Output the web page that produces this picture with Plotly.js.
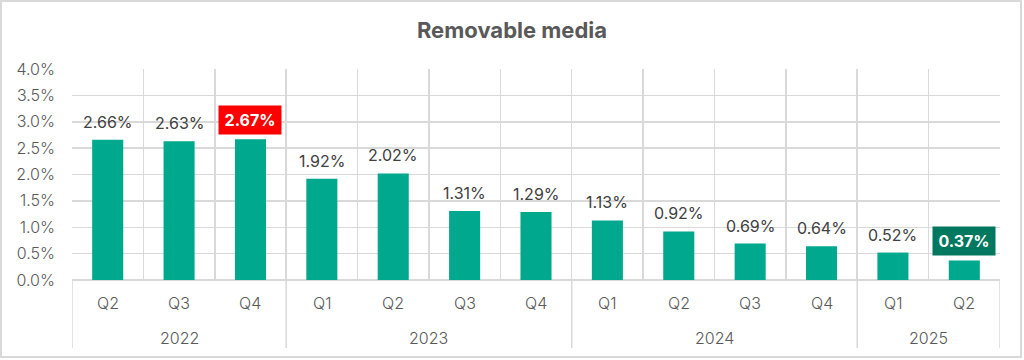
<!DOCTYPE html>
<html>
<head>
<meta charset="utf-8">
<script src="https://cdn.plot.ly/plotly-3.0.1.min.js"></script>
<style>
  html, body { margin: 0; padding: 0; background: #fff; }
  #wrap { position: relative; width: 1024px; height: 360px; }
  #chart { position: absolute; left: 0; top: 0; width: 1024px; height: 360px; }
  #frame { position: absolute; left: 0; top: 0; width: 1018px; height: 354px; border: 2px solid #d9d9d9; pointer-events: none; }
</style>
</head>
<body>
<div id="wrap"><div id="chart"></div><div id="frame"></div></div>
<script>
const years = ["2022","2022","2022","2023","2023","2023","2023","2024","2024","2024","2024","2025","2025"];
const quarters = ["Q2","Q3","Q4","Q1","Q2","Q3","Q4","Q1","Q2","Q3","Q4","Q1","Q2"];
const values = [2.66, 2.63, 2.67, 1.92, 2.02, 1.31, 1.29, 1.13, 0.92, 0.69, 0.64, 0.52, 0.37];
const highlightMax = 2;   // index of red highlighted label
const highlightLast = 12; // index of green highlighted label

const FONT = "Inter, 'Open Sans', sans-serif";
const barColor = "#00A88E";
const gridColor = "#d9d9d9";
const plotH = 211; // plot area height in px (for label offsets)

// unique category keys built from the data
const cats = years.map((y, i) => y + " " + quarters[i]);

const annotations = [];
// value labels
values.forEach((v, i) => {
  const hi = (i === highlightMax) ? "#ff0000" : (i === highlightLast ? "#00785F" : null);
  annotations.push({
    x: cats[i], y: v, xref: "x", yref: "y",
    text: v.toFixed(2) + "%",
    showarrow: false,
    yanchor: "middle",
    yshift: hi ? 19 : 18,
    font: { family: FONT, size: 16, color: hi ? "#ffffff" : "#404040", weight: hi ? 700 : 400 },
    bgcolor: hi || "rgba(0,0,0,0)",
    borderpad: hi ? 4 : 0,
    width: hi ? 54 : undefined
  });
});
// quarter labels
quarters.forEach((q, i) => {
  annotations.push({
    x: cats[i], y: 0, xref: "x", yref: "paper",
    text: q, showarrow: false, yanchor: "middle", yshift: -23,
    font: { family: FONT, size: 16, color: "#595959", weight: 300 }
  });
});
// year groups
const groups = [];
years.forEach((y, i) => {
  if (!groups.length || groups[groups.length - 1].year !== y) groups.push({ year: y, start: i, end: i });
  else groups[groups.length - 1].end = i;
});
const shapes = [];
groups.forEach((g, k) => {
  annotations.push({
    x: (g.start + g.end) / 2, y: 0, xref: "x", yref: "paper",
    text: g.year, showarrow: false, yanchor: "middle", yshift: -58,
    font: { family: FONT, size: 16, color: "#595959", weight: 300 }
  });
  const bounds = k === 0 ? [g.start - 0.5, g.end + 0.5] : [g.end + 0.5];
  bounds.forEach(b => shapes.push({
    type: "line", xref: "x", yref: "paper",
    x0: b, x1: b, y0: 0, y1: -68 / plotH,
    line: { color: gridColor, width: 1.5 }
  }));
});

const trace = {
  type: "bar",
  x: cats,
  y: values,
  marker: { color: barColor },
  hoverinfo: "none"
};

const layout = {
  width: 1024, height: 360,
  margin: { l: 72, r: 24, t: 69, b: 80 },
  paper_bgcolor: "rgba(0,0,0,0)",
  plot_bgcolor: "#ffffff",
  bargap: 0.565,
  showlegend: false,
  title: {
    text: "Removable media",
    x: 0.5, xref: "container", xanchor: "center",
    y: 0.915, yref: "container", yanchor: "middle",
    font: { family: FONT, size: 22, color: "#595959", weight: 700 }
  },
  xaxis: {
    type: "category",
    categoryorder: "trace",
    tickson: "boundaries",
    showgrid: true, gridcolor: gridColor, gridwidth: 1.5,
    showticklabels: false,
    ticks: "",
    showline: false,
    range: [-0.5, cats.length - 0.5]
  },
  yaxis: {
    range: [0, 4], dtick: 0.5,
    tickformat: ".1f", ticksuffix: "%",
    showgrid: true, gridcolor: gridColor, gridwidth: 1.5,
    zeroline: true, zerolinecolor: gridColor, zerolinewidth: 1.5,
    ticks: "",
    ticklabelstandoff: 16,
    tickfont: { family: FONT, size: 16, color: "#595959", weight: 300 },
    automargin: false
  },
  shapes: shapes,
  annotations: annotations
};

Plotly.newPlot("chart", [trace], layout, { staticPlot: true, displayModeBar: false });
</script>
</body>
</html>
